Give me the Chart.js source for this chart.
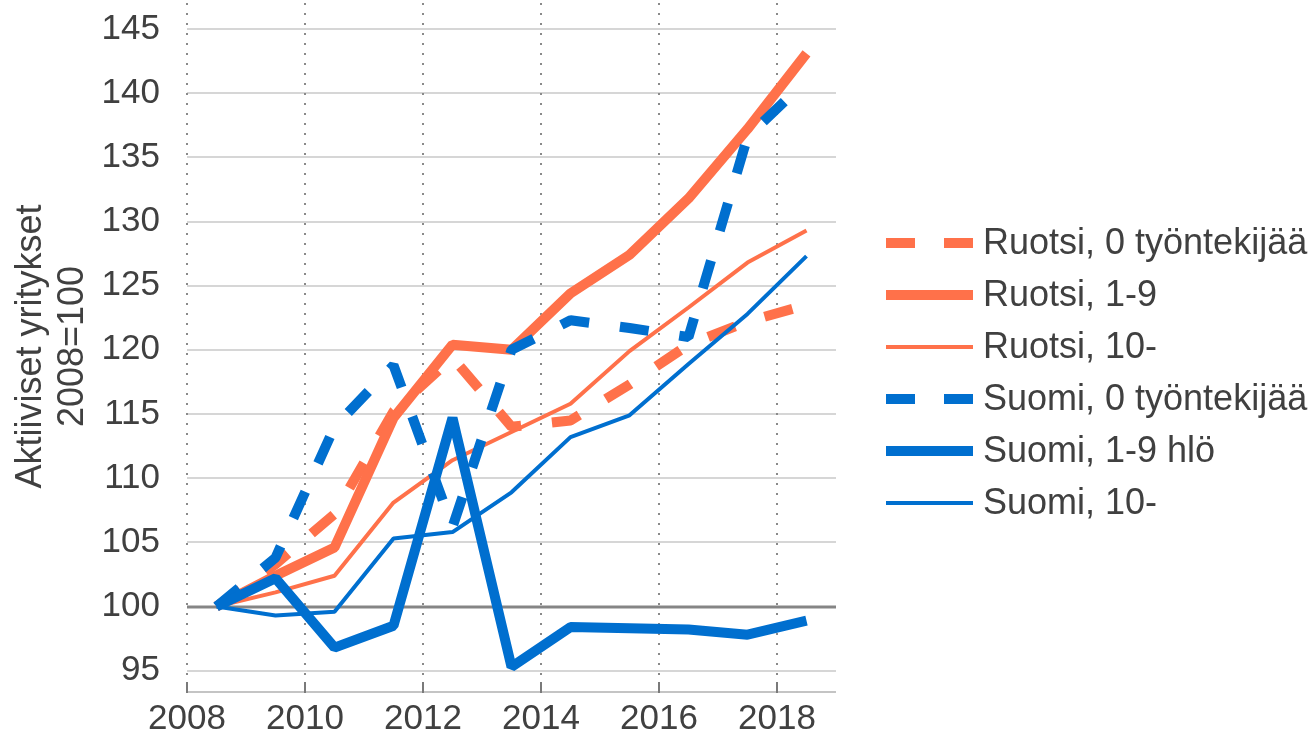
<!DOCTYPE html>
<html><head><meta charset="utf-8">
<script src="https://cdn.jsdelivr.net/npm/chart.js@4.4.1/dist/chart.umd.min.js"></script>
<style>html,body{margin:0;padding:0;background:#fff;overflow:hidden}#wrap{width:1314px;height:734px;position:relative}</style>
</head><body><div id="wrap"><canvas id="c" width="1314" height="734"></canvas></div>
<script>
// ---- data ----
const years = [2008, 2009, 2010, 2011, 2012, 2013, 2014, 2015, 2016, 2017, 2018];
const xTickYears = [2008, 2010, 2012, 2014, 2016, 2018];
const yTickValues = [95, 100, 105, 110, 115, 120, 125, 130, 135, 140, 145];
const seriesLabels = ['Ruotsi, 0 työntekijää', 'Ruotsi, 1-9', 'Ruotsi, 10-', 'Suomi, 0 työntekijää', 'Suomi, 1-9 hlö', 'Suomi, 10-'];
const ruotsi0  = [100, 103.3, 107.2, 115.2, 119.4, 114.0, 114.5, 117.3, 120.4, 122.2, 123.5];
const ruotsi19 = [100, 102.4, 104.6, 114.7, 120.4, 120.0, 124.4, 127.4, 131.8, 137.2, 143.1];
const ruotsi10 = [100, 101.1, 102.4, 108.1, 111.4, 113.6, 115.8, 119.9, 123.3, 126.8, 129.3];
const suomi0   = [100, 103.8, 114.0, 118.8, 106.2, 120.0, 122.3, 121.7, 121.0, 136.6, 141.0];
const suomi19  = [100, 102.2, 96.8, 98.5, 114.7, 95.3, 98.4, 98.3, 98.2, 97.8, 98.9];
const suomi10  = [100, 99.3, 99.6, 105.3, 105.8, 108.9, 113.2, 114.9, 118.9, 122.8, 127.3];

const ORANGE = '#FF714A';
const BLUE = '#006FCF';
const TEXT = '#404040';
const FONT = '"Liberation Sans", Arial, sans-serif';

const toPts = arr => arr.map((v, i) => ({x: years[i] + 0.5, y: v}));

const styles = [
  {color: ORANGE, width: 10, dash: [29, 31]},
  {color: ORANGE, width: 10, dash: []},
  {color: ORANGE, width: 4, dash: []},
  {color: BLUE, width: 10, dash: [29, 31]},
  {color: BLUE, width: 10, dash: []},
  {color: BLUE, width: 4, dash: []}
];
const values = [ruotsi0, ruotsi19, ruotsi10, suomi0, suomi19, suomi10];

const datasets = values.map((arr, i) => ({
  label: seriesLabels[i],
  data: toPts(arr),
  borderColor: styles[i].color,
  backgroundColor: styles[i].color,
  borderWidth: styles[i].width,
  borderDash: styles[i].dash,
  borderJoinStyle: 'bevel',
  borderCapStyle: 'butt',
  pointRadius: 0,
  tension: 0,
  fill: false,
  order: values.length - 1 - i
}));

const gridPlugin = {
  id: 'customGrid',
  beforeDatasetsDraw(chart) {
    const {ctx, chartArea: a, scales: {x, y}} = chart;
    ctx.save();
    yTickValues.forEach(v => {
      const py = Math.round(y.getPixelForValue(v));
      ctx.beginPath();
      ctx.strokeStyle = v === 100 ? '#858585' : '#d6d6d6';
      ctx.lineWidth = v === 100 ? 3 : 2;
      ctx.moveTo(a.left, py); ctx.lineTo(a.right, py); ctx.stroke();
    });
    ctx.strokeStyle = '#8a8a8a';
    ctx.lineWidth = 2;
    ctx.setLineDash([2, 8]);
    xTickYears.forEach(v => {
      const px = Math.round(x.getPixelForValue(v));
      ctx.beginPath(); ctx.moveTo(px, a.top + 3); ctx.lineTo(px, a.bottom - 10); ctx.stroke();
    });
    ctx.setLineDash([]);
    ctx.strokeStyle = '#c4c4c4';
    ctx.lineWidth = 2;
    ctx.beginPath(); ctx.moveTo(a.left, a.bottom - 1); ctx.lineTo(a.right, a.bottom - 1); ctx.stroke();
    ctx.strokeStyle = '#7a7a7a';
    xTickYears.forEach(v => {
      const px = Math.round(x.getPixelForValue(v));
      ctx.beginPath(); ctx.moveTo(px, a.bottom - 11); ctx.lineTo(px, a.bottom); ctx.stroke();
    });
    ctx.restore();
  }
};

const legendPlugin = {
  id: 'customLegend',
  afterDraw(chart) {
    const ctx = chart.ctx;
    ctx.save();
    chart.data.datasets.forEach((ds, i) => {
      const cy = 243 + 52 * i;
      ctx.beginPath();
      ctx.strokeStyle = ds.borderColor;
      ctx.lineWidth = ds.borderWidth;
      ctx.setLineDash(ds.borderDash && ds.borderDash.length ? [29, 29] : []);
      ctx.moveTo(886, cy); ctx.lineTo(973, cy); ctx.stroke();
      ctx.setLineDash([]);
      ctx.fillStyle = TEXT;
      ctx.font = '36px ' + FONT;
      ctx.textBaseline = 'middle';
      ctx.textAlign = 'left';
      ctx.fillText(ds.label, 983, cy + 1);
    });
    ctx.restore();
  }
};

new Chart(document.getElementById('c'), {
  type: 'line',
  data: {datasets},
  plugins: [gridPlugin, legendPlugin],
  options: {
    responsive: false,
    animation: false,
    devicePixelRatio: 1,
    layout: {padding: {left: 0, right: 478, top: 0, bottom: 0}},
    plugins: {legend: {display: false}, tooltip: {enabled: false}},
    scales: {
      x: {
        type: 'linear',
        min: 2008, max: 2019,
        grid: {display: false, drawTicks: false},
        border: {display: false},
        afterBuildTicks: s => { s.ticks = xTickYears.map(v => ({value: v})); },
        afterFit: s => { s.height = 41; s.paddingLeft = 0; s.paddingRight = 0; },
        ticks: {color: TEXT, font: {size: 35, family: FONT}, padding: 5, maxRotation: 0, autoSkip: false,
          callback: v => String(v)}
      },
      y: {
        type: 'linear',
        min: 93.26, max: 147.26,
        grid: {display: false, drawTicks: false},
        border: {display: false},
        afterBuildTicks: s => { s.ticks = yTickValues.map(v => ({value: v})); },
        afterFit: s => { s.width = 187; s.paddingTop = 0; s.paddingBottom = 0; },
        ticks: {color: TEXT, font: {size: 35, family: FONT}, padding: 27, autoSkip: false,
          callback: v => String(v)},
        title: {display: true, text: ['Aktiiviset yritykset', '2008=100'], color: TEXT,
          font: {size: 36, family: FONT, lineHeight: 1.16}, padding: {top: 10, bottom: 0}}
      }
    }
  }
});
</script></body></html>
